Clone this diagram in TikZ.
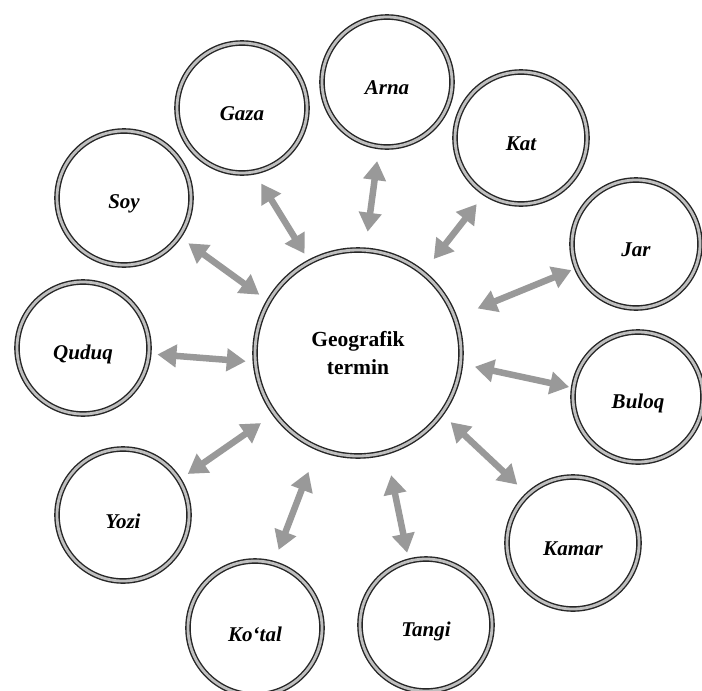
\documentclass[tikz,border=0pt]{standalone}
\usepackage{fontspec}
\setmainfont{Liberation Serif}
\usetikzlibrary{arrows.meta}
\begin{document}
\begin{tikzpicture}[x=1pt,y=-1pt,
  ring/.style={circle, draw=black!85, line width=1.4pt, double=gray!50, double distance=2.8pt, inner sep=0pt},
  term/.style={ring, minimum size=#1},
  termtext/.style={font=\fontsize{21}{23}\selectfont\bfseries\itshape, yshift=-6pt},
  hub/.style={ring, minimum size=206pt, align=center, font=\fontsize{21.5}{28}\selectfont\bfseries},
  link/.style={line width=6.5pt, draw=gray!80, {Triangle[width=22pt,length=19pt]}-{Triangle[width=22pt,length=19pt]}}
]
\fill[white] (0,0) rectangle (702,691);
\useasboundingbox (0,0) rectangle (702,691);

\node[hub] (main) at (358,353) {Geografik\\termin};

\node[term=134pt, label={[termtext]center:Soy}] (soy) at (124,198) {};
\node[term=130pt, label={[termtext]center:Gaza}] (gaza) at (242,108) {};
\node[term=130pt, label={[termtext]center:Arna}] (arna) at (387,82) {};
\node[term=132pt, label={[termtext]center:Kat}] (kat) at (521,138) {};
\node[term=128pt, label={[termtext]center:Jar}] (jar) at (636,244) {};
\node[term=130pt, label={[termtext]center:Buloq}] (buloq) at (638,397) {};
\node[term=132pt, label={[termtext]center:Kamar}] (kamar) at (573,543) {};
\node[term=132pt, label={[termtext]center:Tangi}] (tangi) at (426,625) {};
\node[term=134pt, label={[termtext]center:Ko‘tal}] (kotal) at (255,628) {};
\node[term=132pt, label={[termtext]center:Yozi}] (yozi) at (123,515) {};
\node[term=132pt, label={[termtext]center:Quduq}] (quduq) at (83,348) {};

\draw[link, shorten <=11pt, shorten >=11pt] (soy.-35) -- (main.150);
\draw[link, shorten <=13pt, shorten >=9pt] (gaza.-79) -- (main.118);
\draw[link, shorten <=14pt, shorten >=18pt] (arna.-97) -- (main.86);
\draw[link, shorten <=13pt, shorten >=17pt] (kat.-123) -- (main.51);
\draw[link, shorten <=5pt, shorten >=24pt] (jar.-158) -- (main.20);
\draw[link, shorten <=4pt, shorten >=14pt] (buloq.172) -- (main.-6);
\draw[link, shorten <=14pt, shorten >=12pt] (kamar.133) -- (main.-36);
\draw[link, shorten <=8pt, shorten >=23pt] (tangi.105) -- (main.-74);
\draw[link, shorten <=14pt, shorten >=25pt] (kotal.74) -- (main.-113);
\draw[link, shorten <=10pt, shorten >=16pt] (yozi.32) -- (main.216);
\draw[link, shorten <=8pt, shorten >=9pt] (quduq.-5) -- (main.185);
\end{tikzpicture}
\end{document}
